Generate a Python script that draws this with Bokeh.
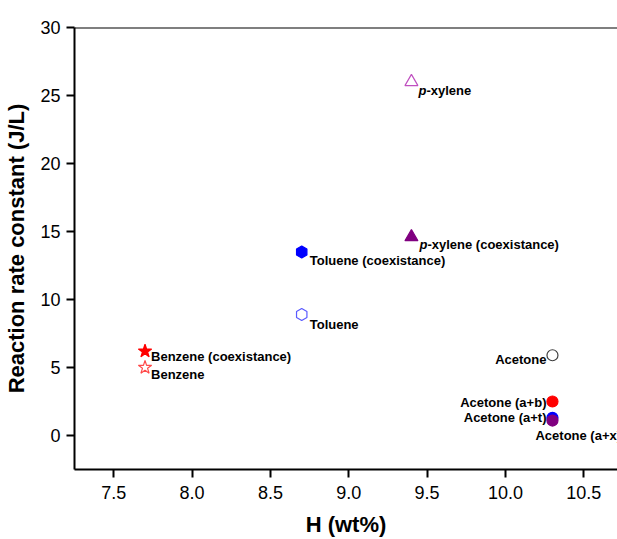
from bokeh.plotting import figure
from bokeh.models import ColumnDataSource, Span
from bokeh.core.properties import value
from bokeh.embed import file_html
from bokeh.resources import INLINE
import numpy as np

# ---- data ----
h_wt = [9.4, 9.4, 8.7, 8.7, 7.7, 7.7, 10.3, 10.3, 10.3, 10.3]
rate_k = [26.0, 14.6, 13.5, 8.9, 6.2, 5.0, 5.9, 2.5, 1.3, 1.1]
names = ["p-xylene", "p-xylene (coexistance)", "Toluene (coexistance)", "Toluene",
         "Benzene (coexistance)", "Benzene", "Acetone", "Acetone (a+b)",
         "Acetone (a+t)", "Acetone (a+x)"]
x_ticks = [7.5, 8.0, 8.5, 9.0, 9.5, 10.0, 10.5]
y_ticks = [0, 5, 10, 15, 20, 25, 30]

# ---- styles (per point) ----
markers = ["triangle", "triangle", "hex", "hex", "star", "star",
           "circle", "circle", "circle", "circle"]
fills = [None, "#800080", "#0000FF", None, "#FF0000", None,
         None, "#FF0000", "#0000FF", "#800080"]
lines = ["#C050C0", "#800080", "#0000FF", "#5A5AFF", "#FF0000", "#FF4A4A",
         "#404040", "#FF0000", "#0000FF", "#800080"]
sizes = [13, 13, 12, 12, 14, 14, 11, 11, 11, 11]
angles = [0, 0, np.pi / 6, np.pi / 6, 0, 0, 0, 0, 0, 0]
dx = [7, 8, 8, 8, 6, 6, -6, -6, -6, -17]
dy = [9, 8, 9, 10, 5, 7, 4, 1, 0, 15]
align = ["left"] * 6 + ["right", "right", "right", "left"]

p = figure(width=617, height=539, output_backend="svg", toolbar_location=None,
           x_range=(7.25, 10.715), y_range=(-2.5, 30),
           min_border_left=74, min_border_top=27, min_border_bottom=70,
           min_border_right=0)
p.outline_line_color = None
p.grid.visible = False
p.background_fill_color = "white"

for i in range(len(h_wt)):
    src = ColumnDataSource(dict(x=[h_wt[i]], y=[rate_k[i]]))
    p.scatter("x", "y", source=src, marker=markers[i], size=sizes[i],
              angle=angles[i],
              fill_color=fills[i], fill_alpha=1.0 if fills[i] else 0,
              line_color=lines[i], line_width=1.2)

for i in range(len(h_wt)):
    nm = names[i]
    if nm.startswith("p-"):
        p.text([h_wt[i]], [rate_k[i]], text=["p"], x_offset=dx[i], y_offset=dy[i],
               text_font=value("Liberation Sans"), text_font_size="13px",
               text_font_style="bold italic", text_align="left",
               text_baseline="middle", text_color="black")
        p.text([h_wt[i]], [rate_k[i]], text=[nm[1:]], x_offset=dx[i] + 8, y_offset=dy[i],
               text_font=value("Liberation Sans"), text_font_size="13px",
               text_font_style="bold", text_align="left",
               text_baseline="middle", text_color="black")
    else:
        p.text([h_wt[i]], [rate_k[i]], text=[nm], x_offset=dx[i], y_offset=dy[i],
               text_font=value("Liberation Sans"), text_font_size="13px",
               text_font_style="bold", text_align=align[i],
               text_baseline="middle", text_color="black")

p.add_layout(Span(location=30, dimension="width", line_color="black", line_width=2))

for ax in (p.xaxis[0], p.yaxis[0]):
    ax.axis_line_width = 2
    ax.axis_line_color = "black"
    ax.major_tick_line_width = 2
    ax.major_tick_out = 8
    ax.major_tick_in = 0
    ax.minor_tick_line_color = None
    ax.major_label_text_font = "Liberation Sans"
    ax.major_label_text_font_size = "18px"
    ax.major_label_text_color = "black"
    ax.axis_label_text_font = "Liberation Sans"
    ax.axis_label_text_font_size = "22px"
    ax.axis_label_text_font_style = "bold"
    ax.axis_label_text_color = "black"

p.xaxis.ticker = x_ticks
p.yaxis.ticker = y_ticks
p.xaxis.major_label_overrides = {t: f"{t:.1f}" for t in x_ticks}
p.xaxis.axis_label = "H (wt%)"
p.yaxis.axis_label = "Reaction rate constant (J/L)"
p.xaxis.major_label_standoff = 8
p.yaxis.major_label_standoff = 6
p.xaxis.axis_label_standoff = 10
p.yaxis.axis_label_standoff = 8

open("out.html", "w").write(file_html(p, INLINE))
